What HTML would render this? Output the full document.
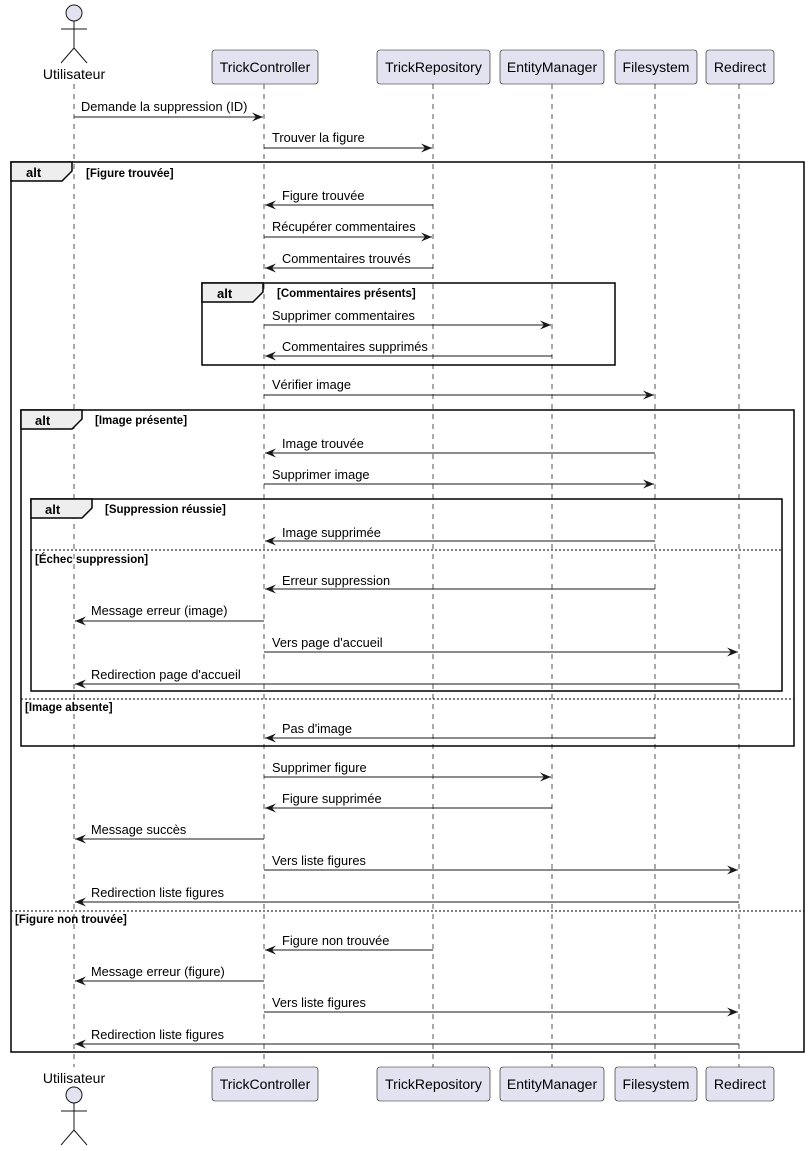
<!DOCTYPE html>
<html><head><meta charset="utf-8"><style>
html,body{margin:0;padding:0;background:#fff}
svg{display:block}
text{font-family:"Liberation Sans",sans-serif}
.m{font-size:12.8px;fill:#000}
.p{font-size:14px;fill:#000}
.g{font-size:11.5px;font-weight:bold;fill:#000}
.a{font-size:13px;font-weight:bold;fill:#000}
.ll{stroke:#555;stroke-width:1;stroke-dasharray:5,5}
.ar{stroke:#181818;stroke-width:1}
.fr{fill:none;stroke:#000;stroke-width:1.5}
.tab{fill:#eee;stroke:#000;stroke-width:1.5}
.sep{stroke:#000;stroke-width:1;stroke-dasharray:2,2}
.bx{fill:#e2e2f0;stroke:#181818;stroke-width:0.6}
</style></head><body>
<svg width="809" height="1151" viewBox="0 0 809 1151" xmlns="http://www.w3.org/2000/svg">
<defs>
<marker id="h" viewBox="0 0 11 9" refX="11" refY="4.5" markerWidth="11" markerHeight="9" orient="auto-start-reverse" markerUnits="userSpaceOnUse">
<path d="M0,0 L11,4.5 L0,9 L4,4.5 Z" fill="#181818"/></marker>
</defs>
<g class="ll">
<line x1="74" y1="84" x2="74" y2="1067"/>
<line x1="264" y1="84" x2="264" y2="1067"/>
<line x1="433" y1="84" x2="433" y2="1067"/>
<line x1="552" y1="84" x2="552" y2="1067"/>
<line x1="655" y1="84" x2="655" y2="1067"/>
<line x1="739" y1="84" x2="739" y2="1067"/>
</g>
<g stroke="#181818" stroke-width="1" fill="none">
<circle cx="74" cy="13" r="8" fill="#e2e2f0"/>
<line x1="74" y1="21" x2="74" y2="48"/><line x1="61" y1="29" x2="87" y2="29"/>
<line x1="74" y1="48" x2="61" y2="63"/><line x1="74" y1="48" x2="87" y2="63"/>
<circle cx="74" cy="1095" r="8" fill="#e2e2f0"/>
<line x1="74" y1="1103" x2="74" y2="1130"/><line x1="61" y1="1111" x2="87" y2="1111"/>
<line x1="74" y1="1130" x2="61" y2="1145"/><line x1="74" y1="1130" x2="87" y2="1145"/>
</g>
<text class="p" x="74" y="79" text-anchor="middle">Utilisateur</text>
<text class="p" x="74" y="1083" text-anchor="middle">Utilisateur</text>
<g>
<rect class="bx" x="212" y="50" width="106" height="34" rx="3"/><text class="p" x="265" y="72" text-anchor="middle">TrickController</text>
<rect class="bx" x="377" y="50" width="113" height="34" rx="3"/><text class="p" x="433.5" y="72" text-anchor="middle">TrickRepository</text>
<rect class="bx" x="500" y="50" width="104" height="34" rx="3"/><text class="p" x="552" y="72" text-anchor="middle">EntityManager</text>
<rect class="bx" x="615" y="50" width="82" height="34" rx="3"/><text class="p" x="656" y="72" text-anchor="middle">Filesystem</text>
<rect class="bx" x="706" y="50" width="68" height="34" rx="3"/><text class="p" x="740" y="72" text-anchor="middle">Redirect</text>
<rect class="bx" x="212" y="1067" width="106" height="34" rx="3"/><text class="p" x="265" y="1089" text-anchor="middle">TrickController</text>
<rect class="bx" x="377" y="1067" width="113" height="34" rx="3"/><text class="p" x="433.5" y="1089" text-anchor="middle">TrickRepository</text>
<rect class="bx" x="500" y="1067" width="104" height="34" rx="3"/><text class="p" x="552" y="1089" text-anchor="middle">EntityManager</text>
<rect class="bx" x="615" y="1067" width="82" height="34" rx="3"/><text class="p" x="656" y="1089" text-anchor="middle">Filesystem</text>
<rect class="bx" x="706" y="1067" width="68" height="34" rx="3"/><text class="p" x="740" y="1089" text-anchor="middle">Redirect</text>
</g>
<rect class="fr" x="11" y="162" width="793" height="890"/>
<path class="tab" d="M11,162 H72 V171 L62,181 H11 Z"/><text class="a" x="26" y="177">alt</text>
<text class="g" x="86" y="177">[Figure trouvée]</text>
<line class="sep" x1="11" y1="911" x2="804" y2="911"/>
<text class="g" x="15" y="923">[Figure non trouvée]</text>

<rect class="fr" x="202" y="283" width="413" height="82"/>
<path class="tab" d="M202,283 H263 V292 L253,302 H202 Z"/><text class="a" x="217" y="298">alt</text>
<text class="g" x="277" y="297">[Commentaires présents]</text>

<rect class="fr" x="21" y="410" width="773" height="336"/>
<path class="tab" d="M21,410 H82 V419 L72,429 H21 Z"/><text class="a" x="35" y="425">alt</text>
<text class="g" x="95" y="424">[Image présente]</text>
<line class="sep" x1="21" y1="699" x2="794" y2="699"/>
<text class="g" x="25" y="711">[Image absente]</text>

<rect class="fr" x="31" y="499" width="751" height="192"/>
<path class="tab" d="M31,499 H92 V508 L82,518 H31 Z"/><text class="a" x="45" y="514">alt</text>
<text class="g" x="105" y="513">[Suppression réussie]</text>
<line class="sep" x1="31" y1="550" x2="782" y2="550"/>
<text class="g" x="35" y="563">[Échec suppression]</text>

<g class="ar" marker-end="url(#h)">
<line x1="74" y1="117" x2="263" y2="117"/>
<line x1="264" y1="148" x2="432" y2="148"/>
<line x1="433" y1="205" x2="265" y2="205"/>
<line x1="264" y1="237" x2="432" y2="237"/>
<line x1="433" y1="268" x2="265" y2="268"/>
<line x1="264" y1="325" x2="551" y2="325"/>
<line x1="552" y1="356" x2="265" y2="356"/>
<line x1="264" y1="395" x2="654" y2="395"/>
<line x1="655" y1="453" x2="265" y2="453"/>
<line x1="264" y1="484" x2="654" y2="484"/>
<line x1="655" y1="541" x2="265" y2="541"/>
<line x1="655" y1="589" x2="265" y2="589"/>
<line x1="264" y1="621" x2="75" y2="621"/>
<line x1="264" y1="652" x2="738" y2="652"/>
<line x1="739" y1="684" x2="75" y2="684"/>
<line x1="655" y1="738" x2="265" y2="738"/>
<line x1="264" y1="777" x2="551" y2="777"/>
<line x1="552" y1="808" x2="265" y2="808"/>
<line x1="264" y1="839" x2="75" y2="839"/>
<line x1="264" y1="870" x2="738" y2="870"/>
<line x1="739" y1="902" x2="75" y2="902"/>
<line x1="433" y1="950" x2="265" y2="950"/>
<line x1="264" y1="981" x2="75" y2="981"/>
<line x1="264" y1="1012" x2="738" y2="1012"/>
<line x1="739" y1="1044" x2="75" y2="1044"/>
</g>
<g class="m">
<text class="m" x="81" y="111">Demande la suppression (ID)</text>
<text class="m" x="272" y="142">Trouver la figure</text>
<text class="m" x="282" y="200">Figure trouvée</text>
<text class="m" x="272" y="231">Récupérer commentaires</text>
<text class="m" x="282" y="263">Commentaires trouvés</text>
<text class="m" x="272" y="320">Supprimer commentaires</text>
<text class="m" x="282" y="351">Commentaires supprimés</text>
<text class="m" x="272" y="389">Vérifier image</text>
<text class="m" x="282" y="448">Image trouvée</text>
<text class="m" x="272" y="479">Supprimer image</text>
<text class="m" x="282" y="537">Image supprimée</text>
<text class="m" x="282" y="585">Erreur suppression</text>
<text class="m" x="91" y="615">Message erreur (image)</text>
<text class="m" x="272" y="647">Vers page d'accueil</text>
<text class="m" x="91" y="679">Redirection page d'accueil</text>
<text class="m" x="282" y="733">Pas d'image</text>
<text class="m" x="272" y="772">Supprimer figure</text>
<text class="m" x="282" y="803">Figure supprimée</text>
<text class="m" x="91" y="834">Message succès</text>
<text class="m" x="272" y="865">Vers liste figures</text>
<text class="m" x="91" y="897">Redirection liste figures</text>
<text class="m" x="282" y="945">Figure non trouvée</text>
<text class="m" x="91" y="976">Message erreur (figure)</text>
<text class="m" x="272" y="1007">Vers liste figures</text>
<text class="m" x="91" y="1039">Redirection liste figures</text>
</g>
</svg>
</body></html>
